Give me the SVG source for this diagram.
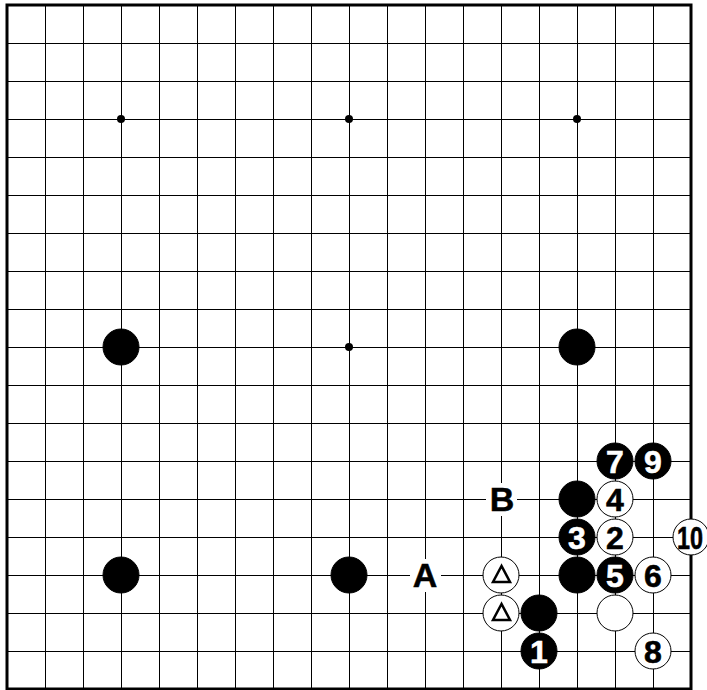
<svg xmlns="http://www.w3.org/2000/svg" width="707" height="690" viewBox="0 0 707 690">
<style>
.grid line{stroke:#000;stroke-width:1;shape-rendering:crispEdges}
.b{fill:#000;stroke:#000;stroke-width:1}
.w{fill:#fff;stroke:#000;stroke-width:1}
.hoshi{fill:#000}
.t{font-family:"Liberation Sans",Arial,sans-serif;font-weight:bold;font-size:32px;text-anchor:middle;stroke-width:0.6}
.tw{fill:#fff;stroke:#fff}
.tb{fill:#000;stroke:#000}
.lbl{font-family:"Liberation Sans",Arial,sans-serif;font-weight:bold;font-size:34px;text-anchor:middle;fill:#000;stroke:#000;stroke-width:0.5}
.tri{fill:none;stroke:#000;stroke-width:2.5;stroke-linejoin:miter}
</style>
<defs>
<circle id="bs" r="18" class="b"/>
<circle id="ws" r="18" class="w"/>
</defs>
<rect x="0" y="0" width="707" height="690" fill="#fff"/>
<g id="board" class="grid">
<line x1="45" y1="5" x2="45" y2="689"/>
<line x1="83" y1="5" x2="83" y2="689"/>
<line x1="121" y1="5" x2="121" y2="689"/>
<line x1="159" y1="5" x2="159" y2="689"/>
<line x1="197" y1="5" x2="197" y2="689"/>
<line x1="235" y1="5" x2="235" y2="689"/>
<line x1="273" y1="5" x2="273" y2="689"/>
<line x1="311" y1="5" x2="311" y2="689"/>
<line x1="349" y1="5" x2="349" y2="689"/>
<line x1="387" y1="5" x2="387" y2="689"/>
<line x1="425" y1="5" x2="425" y2="689"/>
<line x1="463" y1="5" x2="463" y2="689"/>
<line x1="501" y1="5" x2="501" y2="689"/>
<line x1="539" y1="5" x2="539" y2="689"/>
<line x1="577" y1="5" x2="577" y2="689"/>
<line x1="615" y1="5" x2="615" y2="689"/>
<line x1="653" y1="5" x2="653" y2="689"/>
<line x1="7" y1="43" x2="691" y2="43"/>
<line x1="7" y1="81" x2="691" y2="81"/>
<line x1="7" y1="119" x2="691" y2="119"/>
<line x1="7" y1="157" x2="691" y2="157"/>
<line x1="7" y1="195" x2="691" y2="195"/>
<line x1="7" y1="233" x2="691" y2="233"/>
<line x1="7" y1="271" x2="691" y2="271"/>
<line x1="7" y1="309" x2="691" y2="309"/>
<line x1="7" y1="347" x2="691" y2="347"/>
<line x1="7" y1="385" x2="691" y2="385"/>
<line x1="7" y1="423" x2="691" y2="423"/>
<line x1="7" y1="461" x2="691" y2="461"/>
<line x1="7" y1="499" x2="691" y2="499"/>
<line x1="7" y1="537" x2="691" y2="537"/>
<line x1="7" y1="575" x2="691" y2="575"/>
<line x1="7" y1="613" x2="691" y2="613"/>
<line x1="7" y1="651" x2="691" y2="651"/>
<rect x="7" y="5" width="684" height="684" fill="none" stroke="#000" stroke-width="3"/>
</g>
<g id="hoshi">
<circle class="hoshi" cx="121" cy="119" r="4"/>
<circle class="hoshi" cx="349" cy="119" r="4"/>
<circle class="hoshi" cx="577" cy="119" r="4"/>
<circle class="hoshi" cx="349" cy="347" r="4"/>
</g>
<g id="connectors"></g>
<g id="stone-b-d16"><use href="#bs" x="121" y="347"/></g>
<g id="stone-b-q16"><use href="#bs" x="577" y="347"/></g>
<g id="stone-b-d10"><use href="#bs" x="121" y="575"/></g>
<g id="stone-b-j10"><use href="#bs" x="349" y="575"/></g>
<g id="stone-b-q10"><use href="#bs" x="577" y="575"/></g>
<g id="stone-b-q12"><use href="#bs" x="577" y="499"/></g>
<g id="stone-b-p9"><use href="#bs" x="539" y="613"/></g>
<g id="stone-1"><use href="#bs" x="539" y="651"/><text class="t tw" x="539" y="662.5">1</text></g>
<g id="stone-2"><use href="#ws" x="615" y="537"/><text class="t tb" x="615" y="548.5">2</text></g>
<g id="stone-3"><use href="#bs" x="577" y="537"/><text class="t tw" x="577" y="548.5">3</text></g>
<g id="stone-4"><use href="#ws" x="615" y="499"/><text class="t tb" x="615" y="510.5">4</text></g>
<g id="stone-5"><use href="#bs" x="615" y="575"/><text class="t tw" x="615" y="586.5">5</text></g>
<g id="stone-6"><use href="#ws" x="653" y="575"/><text class="t tb" x="653" y="586.5">6</text></g>
<g id="stone-7"><use href="#bs" x="615" y="461"/><text class="t tw" x="615" y="472.5">7</text></g>
<g id="stone-8"><use href="#ws" x="653" y="651"/><text class="t tb" x="653" y="662.5">8</text></g>
<g id="stone-9"><use href="#bs" x="653" y="461"/><text class="t tw" x="653" y="472.5">9</text></g>
<g id="stone-10"><use href="#ws" x="691" y="537"/><text class="t tb" x="690" y="548.5" textLength="26" lengthAdjust="spacingAndGlyphs">10</text></g>
<g id="stone-w-r9"><use href="#ws" x="615" y="613"/></g>
<g id="stone-w-tri1"><use href="#ws" x="501" y="575"/><polygon class="tri" points="501.5,566 493,582 510,582"/></g>
<g id="stone-w-tri2"><use href="#ws" x="501" y="613"/><polygon class="tri" points="501.5,604 493,620 510,620"/></g>
<g id="label-A"><rect x="410" y="559" width="31" height="33" fill="#fff"/><text class="lbl" x="425" y="587">A</text></g>
<g id="label-B"><rect x="486" y="483" width="31" height="33" fill="#fff"/><text class="lbl" x="502" y="511">B</text></g>
</svg>
